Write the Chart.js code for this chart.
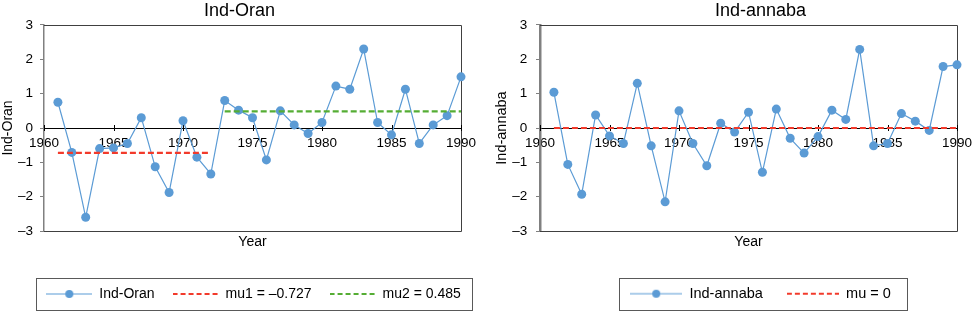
<!DOCTYPE html>
<html><head><meta charset="utf-8">
<script src="https://cdn.jsdelivr.net/npm/chart.js@4.4.0/dist/chart.umd.min.js"></script>
<style>
html,body{margin:0;padding:0;background:#fff;overflow:hidden;width:974px;height:311px;position:relative;}
#wl{position:absolute;left:0;top:0;width:487px;height:311px;}
#wr{position:absolute;left:487px;top:0;width:547px;height:311px;}
canvas{display:block;}
</style></head><body>
<div id="wl"><canvas id="cl" width="487" height="311"></canvas></div>
<div id="wr"><canvas id="cr" width="547" height="311"></canvas></div>
<script>
// ---- data ----
const years = [1961,1962,1963,1964,1965,1966,1967,1968,1969,1970,1971,1972,1973,1974,1975,1976,1977,1978,1979,1980,1981,1982,1983,1984,1985,1986,1987,1988,1989,1990];
const indOran = [0.75,-0.71,-2.60,-0.60,-0.58,-0.45,0.30,-1.13,-1.88,0.21,-0.85,-1.34,0.80,0.52,0.30,-0.93,0.50,0.09,-0.16,0.16,1.22,1.13,2.30,0.16,-0.20,1.13,-0.45,0.09,0.36,1.49];
const indAnnaba = [1.04,-1.06,-1.93,0.38,-0.23,-0.45,1.30,-0.52,-2.15,0.50,-0.45,-1.10,0.14,-0.12,0.46,-1.29,0.55,-0.30,-0.73,-0.25,0.52,0.25,2.29,-0.52,-0.45,0.42,0.20,-0.07,1.79,1.84];
const oranMu1 = -0.727;
const oranMu1Years = [1961, 1972];
const oranMu2 = 0.485;
const oranMu2Years = [1973, 1990];
const annabaMu = 0;
const annabaMuYears = [1961, 1990];
const xTickYears = [1960,1965,1970,1975,1980,1985,1990];
const yTickValues = [-3,-2,-1,0,1,2,3];

// ---- styling ----
Chart.defaults.font.family = "'Liberation Sans', Arial, sans-serif";
Chart.defaults.color = '#000';
const BLUE = '#5b9bd5', RED = '#f23a2b', GREEN = '#55ad34';
const fmtNum = v => v < 0 ? '\u2013' + Math.abs(v) : String(v);

function sample(w, color, lw, dash, dot) {
  const c = document.createElement('canvas');
  c.width = w; c.height = 12;
  const g = c.getContext('2d');
  g.strokeStyle = color; g.lineWidth = lw;
  if (dash) g.setLineDash(dash);
  g.beginPath(); g.moveTo(0, 6); g.lineTo(w, 6); g.stroke();
  if (dot) { g.setLineDash([]); g.fillStyle = color; g.beginPath(); g.arc(w/2, 6, 4, 0, Math.PI*2); g.fill(); }
  return c;
}

const framePlugin = {
  id: 'frame',
  afterLayout(chart, args, o) {
    if (o.legendShift) { chart.legend.left += o.legendShift; chart.legend.right += o.legendShift; }
  },
  beforeDatasetsDraw(chart, args, o) {
    const {ctx, chartArea: a} = chart;
    const l = Math.round(a.left), r = Math.round(a.right) + 0.5, t = Math.round(a.top) + 0.5, b = Math.round(a.bottom) + 0.5;
    ctx.save();
    ctx.strokeStyle = o.color; ctx.lineWidth = o.width;
    ctx.beginPath();
    ctx.moveTo(l, t); ctx.lineTo(r, t); ctx.lineTo(r, b); ctx.lineTo(l, b);
    ctx.stroke();
    // crossing tick marks on the x axis (at y = 0)
    const xs = chart.scales.x, ys = chart.scales.y;
    const y0 = Math.round(ys.getPixelForValue(0));
    ctx.strokeStyle = '#000'; ctx.lineWidth = 1;
    ctx.beginPath();
    xTickYears.forEach(v => {
      const px = Math.round(xs.getPixelForValue(v)) + 0.5;
      ctx.moveTo(px, y0 - 3); ctx.lineTo(px, y0 + 3);
    });
    ctx.stroke();
    ctx.restore();
  },
  afterDraw(chart, args, o) {
    const hb = chart.legend.legendHitBoxes;
    if (!hb || !hb.length) return;
    const f = hb[0], last = hb[hb.length - 1];
    const x1 = Math.round(f.left - o.boxPad[0]) + 0.5;
    const x2 = Math.round(last.left + last.width + o.boxPad[1]) + 0.5;
    const cy = f.top + f.height / 2;
    const y1 = Math.round(cy - 16) + 0.5, y2 = Math.round(cy + 16) + 0.5;
    const ctx = chart.ctx;
    ctx.save();
    ctx.strokeStyle = '#595959'; ctx.lineWidth = 1;
    ctx.strokeRect(x1, y1, x2 - x1, y2 - y1);
    ctx.restore();
  }
};

function makeChart(canvasId, cfg) {
  const imgs = cfg.datasets.map(d => d.sampleImg);
  return new Chart(document.getElementById(canvasId), {
    type: 'line',
    data: { datasets: cfg.datasets.map(d => d.ds) },
    plugins: [framePlugin],
    options: {
      responsive: false,
      animation: false,
      events: [],
      layout: { padding: { left: 0, right: cfg.padRight, top: 0, bottom: 0 } },
      scales: {
        x: {
          type: 'linear', min: 1960, max: 1990, position: { y: 0 },
          afterBuildTicks: s => { s.ticks = xTickYears.map(v => ({ value: v })); },
          ticks: { callback: v => String(v), font: { size: 13.5 }, color: '#000', padding: 7, maxRotation: 0, autoSkip: false },
          grid: { drawOnChartArea: false, drawTicks: false },
          border: { color: '#000', width: 1 }
        },
        x2: {
          type: 'linear', position: 'bottom', display: true,
          ticks: { display: false }, grid: { display: false, drawTicks: false }, border: { display: false },
          title: { display: true, text: 'Year', font: { size: 14 }, color: '#000', padding: { top: 3, bottom: cfg.yearPadBottom } }
        },
        y: {
          type: 'linear', min: -3, max: 3, position: 'left',
          afterBuildTicks: s => { s.ticks = yTickValues.map(v => ({ value: v })); },
          ticks: { callback: v => fmtNum(v), font: { size: 13.5 }, color: '#000', padding: cfg.yTickPad },
          grid: { drawOnChartArea: false, drawTicks: true, tickLength: 4, tickColor: '#808080' },
          border: { color: '#808080', width: cfg.yBorder },
          title: { display: true, text: cfg.yTitle, font: { size: cfg.yTitleSize }, color: '#000', padding: { top: cfg.yTitlePad, bottom: 0 } },
          afterFit: s => { s.width = cfg.yWidth; }
        },
        yR: {
          type: 'linear', position: 'right', display: true,
          ticks: { display: false }, grid: { display: false, drawTicks: false }, border: { display: false },
          afterFit: s => { s.width = cfg.rightGap; }
        }
      },
      plugins: {
        tooltip: { enabled: false },
        title: { display: true, text: cfg.title, font: { size: 18, weight: 'normal' }, color: '#000', padding: { top: 0, bottom: 3.4 } },
        legend: {
          position: 'bottom',
          labels: {
            usePointStyle: true, pointStyleWidth: cfg.sampleW, padding: cfg.legendPad,
            font: { size: cfg.legendFont }, color: '#000',
            generateLabels: chart => chart.data.datasets.map((ds, i) => ({
              text: ds.label, pointStyle: imgs[i], fillStyle: 'rgba(0,0,0,0)', strokeStyle: 'rgba(0,0,0,0)',
              lineWidth: 0, hidden: false, datasetIndex: i, fontColor: '#000'
            }))
          }
        },
        frame: { color: '#404040', width: 1, legendShift: cfg.legendShift, boxPad: cfg.boxPad }
      }
    }
  });
}

const seriesStyle = { borderColor: BLUE, backgroundColor: BLUE, borderWidth: 1.2, pointRadius: 4.5, pointHoverRadius: 4.5, pointBackgroundColor: BLUE, pointBorderWidth: 0, tension: 0, clip: false, order: 1 };
const muStyle = (c) => ({ borderColor: c, backgroundColor: c, borderWidth: 2.2, borderDash: [6, 3], pointRadius: 0, pointHoverRadius: 0, tension: 0, order: 0 });

makeChart('cl', {
  title: 'Ind-Oran', yTitle: 'Ind-Oran', yTitleSize: 14, yTitlePad: 0, yTickPad: 7, yBorder: 1.5, yWidth: 44,
  padRight: 8, rightGap: 18, yearPadBottom: 18.2,
  sampleW: 46, legendPad: 18, legendFont: 14, legendShift: 14, boxPad: [10.7, 11],
  datasets: [
    { ds: Object.assign({ label: 'Ind-Oran', data: years.map((y, i) => ({ x: y, y: indOran[i] })) }, seriesStyle), sampleImg: sample(46, BLUE, 1.2, null, true) },
    { ds: Object.assign({ label: 'mu1 = ' + fmtNum(oranMu1), data: oranMu1Years.map(y => ({ x: y, y: oranMu1 })) }, muStyle(RED)), sampleImg: sample(46, RED, 2, [5, 3], false) },
    { ds: Object.assign({ label: 'mu2 = ' + fmtNum(oranMu2), data: oranMu2Years.map(y => ({ x: y, y: oranMu2 })) }, muStyle(GREEN)), sampleImg: sample(46, GREEN, 2, [5, 3], false) }
  ]
});

makeChart('cr', {
  title: 'Ind-annaba', yTitle: 'Ind-annaba', yTitleSize: 14.5, yTitlePad: 6.5, yTickPad: 8.7, yBorder: 2.5, yWidth: 53,
  padRight: 0, rightGap: 77, yearPadBottom: 11.7,
  sampleW: 52, legendPad: 24, legendFont: 14.5, legendShift: 0, boxPad: [11.3, 15.7],
  datasets: [
    { ds: Object.assign({ label: 'Ind-annaba', data: years.map((y, i) => ({ x: y, y: indAnnaba[i] })) }, seriesStyle), sampleImg: sample(52, BLUE, 1.2, null, true) },
    { ds: Object.assign({ label: 'mu = ' + fmtNum(annabaMu), data: annabaMuYears.map(y => ({ x: y, y: annabaMu })) }, muStyle(RED)), sampleImg: sample(52, RED, 2, [5, 3], false) }
  ]
});
</script>
</body></html>
